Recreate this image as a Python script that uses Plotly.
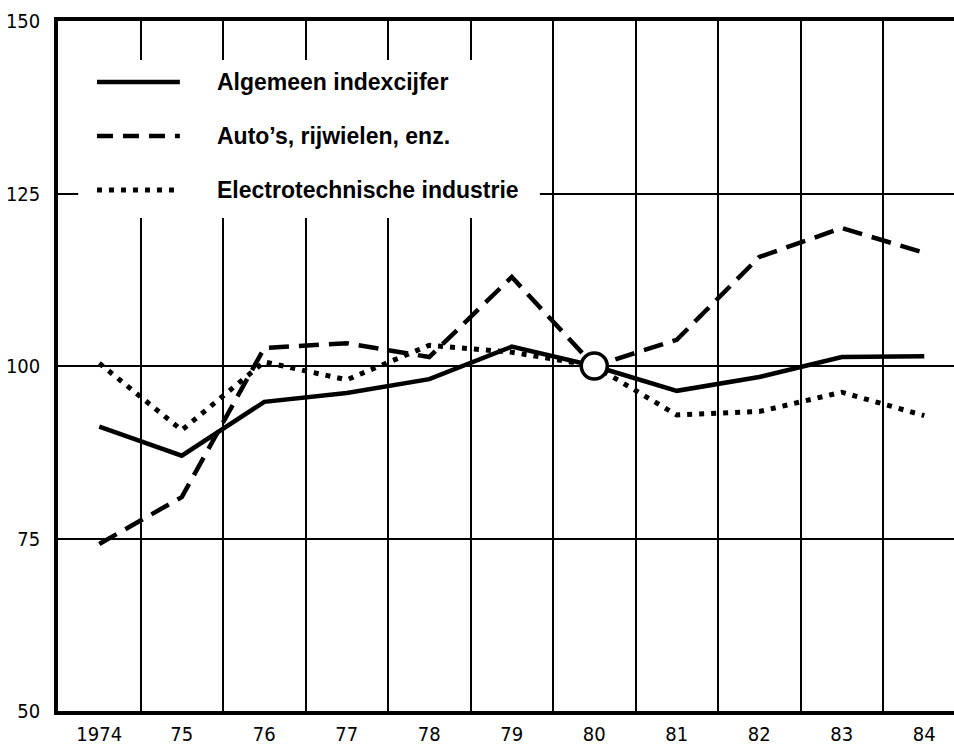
import plotly.graph_objects as go

# index 1980 = 100
years = [1974, 1975, 1976, 1977, 1978, 1979, 1980, 1981, 1982, 1983, 1984]
year_labels = ["1974", "75", "76", "77", "78", "79", "80", "81", "82", "83", "84"]
algemeen = [91.2, 87.0, 94.8, 96.1, 98.1, 102.8, 100, 96.4, 98.4, 101.3, 101.4]
autos = [74.2, 81.0, 102.6, 103.3, 101.3, 112.9, 100, 103.8, 115.8, 120.0, 116.4]
electro = [100.4, 90.7, 100.6, 98.0, 103.0, 102.0, 100, 92.9, 93.4, 96.2, 92.8]
base_year = [1980]
base_value = [100]

legend_names = ["Algemeen indexcijfer", "Auto\u2019s, rijwielen, enz.", "Electrotechnische industrie"]
y_ticks = [50, 75, 100, 125, 150]

tick_font = dict(family="DejaVu Sans Condensed, Liberation Sans Narrow, sans-serif", size=20, color="black")
text_font = dict(family="Liberation Sans, Arial, sans-serif", size=23, color="black")

fig = go.Figure()
fig.add_trace(go.Scatter(x=years, y=algemeen, mode="lines", name=legend_names[0],
                         line=dict(color="black", width=4.5)))
fig.add_trace(go.Scatter(x=years, y=autos, mode="lines", name=legend_names[1],
                         line=dict(color="black", width=4.5, dash="20px,10px")))
fig.add_trace(go.Scatter(x=years, y=electro, mode="lines", name=legend_names[2],
                         line=dict(color="black", width=5, dash="5px,7px")))
fig.add_trace(go.Scatter(x=base_year, y=base_value, mode="markers", showlegend=False,
                         marker=dict(size=26, color="white", line=dict(color="black", width=3.5))))

# white box behind the legend (breaks the grid lines like the original)
fig.add_shape(type="rect", xref="x", yref="y", x0=1973.745, x1=1979.34, y0=121.45, y1=144.35,
              fillcolor="white", line=dict(width=0), layer="above")

# hand made legend: long line samples + labels
leg_y = [0.9116, 0.8333, 0.7551]
leg_dash = ["solid", "16px,10px", "5px,7px"]
leg_w = [4.5, 4.5, 5]
for name, yy, d, w in zip(legend_names, leg_y, leg_dash, leg_w):
    fig.add_shape(type="line", xref="paper", yref="paper", x0=0.0435, x1=0.136, y0=yy, y1=yy,
                  line=dict(color="black", width=w, dash=d), layer="above")
    fig.add_annotation(x=0.175, y=yy, xref="paper", yref="paper", text="<b>" + name + "</b>",
                       showarrow=False, xanchor="left", yanchor="middle", font=text_font)

fig.update_layout(
    width=954, height=748,
    margin=dict(l=58, r=0, t=21, b=37),
    plot_bgcolor="white", paper_bgcolor="white",
    showlegend=False,
)
fig.update_xaxes(
    range=[1973.5, 1984.36], tickvals=years, ticktext=year_labels, tickfont=tick_font,
    showgrid=False, zeroline=False, ticks="", ticklabelstandoff=2, automargin=False,
    showline=True, linecolor="black", linewidth=3.5, mirror=True,
    minor=dict(tick0=1974.5, dtick=1, showgrid=True, gridcolor="black", gridwidth=2, ticks=""),
)
fig.update_yaxes(
    range=[50, 150], tickvals=y_ticks, tickfont=tick_font, automargin=False,
    showgrid=True, gridcolor="black", gridwidth=2, zeroline=False, ticks="",
    ticklabelstandoff=10,
    showline=True, linecolor="black", linewidth=3.5,
)

# drop the default 8px body margin so the figure fills the window exactly
fig.write_html("out.html", config={"displayModeBar": False},
               post_script="document.body.style.margin='0';")
